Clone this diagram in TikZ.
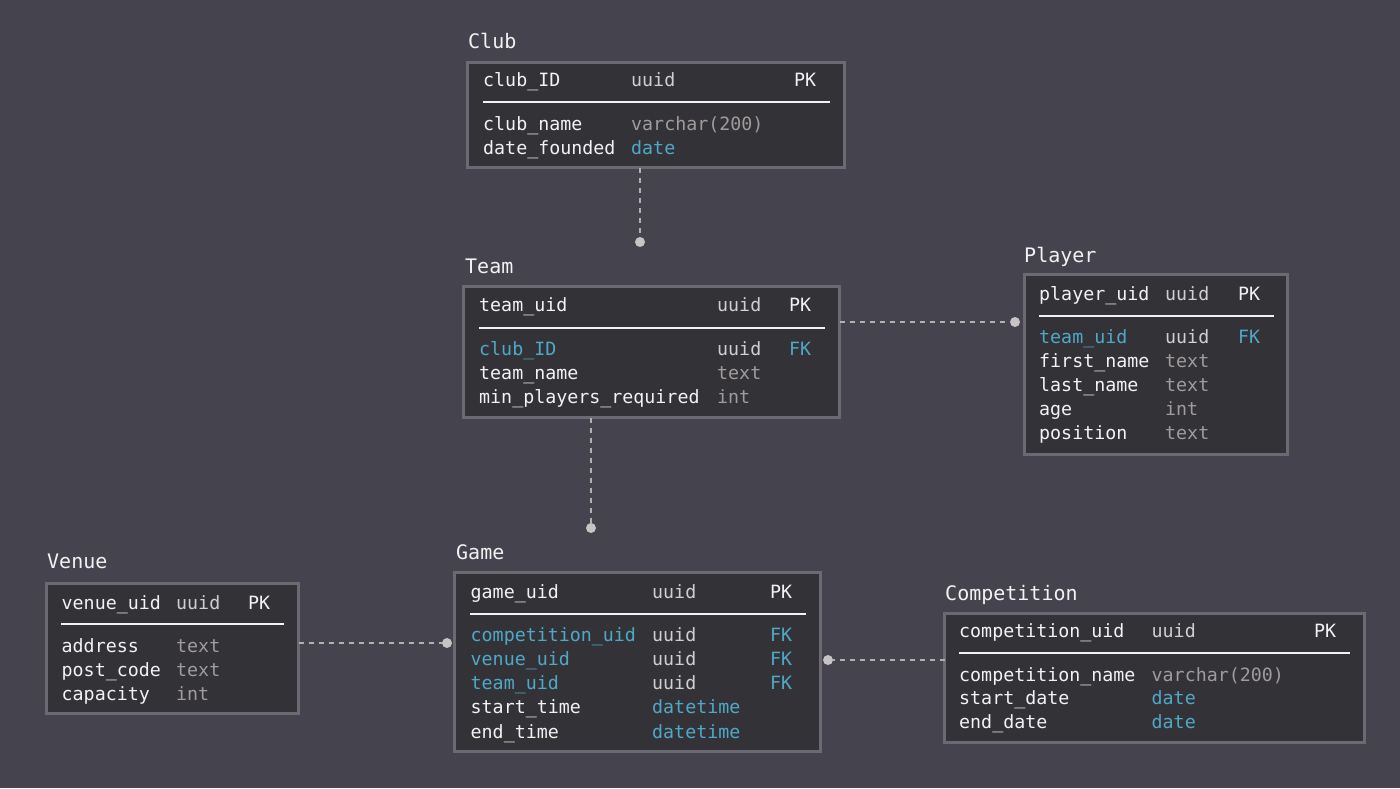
\documentclass[tikz,border=0pt]{standalone}
\usepackage{fontspec}
\newfontfamily\ermono{DejaVu Sans Mono}
\definecolor{canvas}{HTML}{45444E}
\definecolor{tablefill}{HTML}{333337}
\definecolor{tableline}{HTML}{6B6A72}
\definecolor{keyblue}{HTML}{4FA8C8}
\definecolor{typegrey}{HTML}{A19B9B}
\definecolor{uuidgrey}{HTML}{D2CECE}
\definecolor{fieldwhite}{HTML}{F2F2F2}
\definecolor{linkgrey}{HTML}{B4B0B0}
\definecolor{dotgrey}{HTML}{C8C4C4}
% one row of a table: name, baseline, field style, field, type style, type, key
\newcommand{\erow}[7]{%
  \node[#3] (#1f) at (\colA,#2) {#4};
  \node[#5] (#1t) at (\colB,#2) {#6};
  \node[#3] (#1k) at (\colC,#2) {#7};}
\begin{document}
\begin{tikzpicture}[x=1pt,y=-1pt,
    tbl/.style={rectangle, draw=tableline, line width=3pt, fill=tablefill, inner sep=0, outer sep=0},
    ttl/.style={anchor=base west, inner sep=0, text=fieldwhite, font=\ermono\fontsize{20}{24}\selectfont},
    fld/.style={anchor=base west, inner sep=0, text=fieldwhite, font=\ermono\fontsize{18.3}{22}\selectfont},
    fk/.style={fld, text=keyblue},
    uid/.style={fld, text=uuidgrey},
    typ/.style={fld, text=typegrey},
    dt/.style={fld, text=keyblue},
    sep/.style={fieldwhite, line width=1.5pt},
    link/.style={linkgrey, line width=1.5pt, dash pattern=on 5pt off 5pt},
    enddot/.style={circle, fill=dotgrey, inner sep=0, minimum size=10pt}]
  \fill[canvas] (0,0) rectangle (1400,788);
  \useasboundingbox (0,0) rectangle (1400,788);

  % Club
  \node[tbl, minimum width=377, minimum height=105] (club) at (656,115) {};
  \node[ttl] (club-t) at (468,48) {Club};
  \def\colA{483}\def\colB{631}\def\colC{794}
  \erow{club-1}{86}{fld}{club\_ID}{uid}{uuid}{PK}
  \draw[sep] (483,102) -- (830,102);
  \erow{club-2}{130}{fld}{club\_name}{typ}{varchar(200)}{}
  \erow{club-3}{154}{fld}{date\_founded}{dt}{date}{}

  % Team
  \node[tbl, minimum width=376, minimum height=131] (team) at (651.5,352) {};
  \node[ttl] (team-t) at (465,273) {Team};
  \def\colA{479}\def\colB{717}\def\colC{789}
  \erow{team-1}{311}{fld}{team\_uid}{uid}{uuid}{PK}
  \draw[sep] (479,328) -- (825,328);
  \erow{team-2}{355}{fk}{club\_ID}{uid}{uuid}{FK}
  \erow{team-3}{379}{fld}{team\_name}{typ}{text}{}
  \erow{team-4}{403}{fld}{min\_players\_required}{typ}{int}{}

  % Player
  \node[tbl, minimum width=263, minimum height=180] (player) at (1156,364.5) {};
  \node[ttl] (player-t) at (1024,262) {Player};
  \def\colA{1039}\def\colB{1165}\def\colC{1238}
  \erow{player-1}{300}{fld}{player\_uid}{uid}{uuid}{PK}
  \draw[sep] (1039,316) -- (1274,316);
  \erow{player-2}{343}{fk}{team\_uid}{uid}{uuid}{FK}
  \erow{player-3}{367}{fld}{first\_name}{typ}{text}{}
  \erow{player-4}{391}{fld}{last\_name}{typ}{text}{}
  \erow{player-5}{415}{fld}{age}{typ}{int}{}
  \erow{player-6}{439}{fld}{position}{typ}{text}{}

  % Game
  \node[tbl, minimum width=366, minimum height=179] (game) at (637.5,662) {};
  \node[ttl] (game-t) at (456,559) {Game};
  \def\colA{470.5}\def\colB{652}\def\colC{770}
  \erow{game-1}{598}{fld}{game\_uid}{uid}{uuid}{PK}
  \draw[sep] (470,614) -- (806,614);
  \erow{game-2}{641.5}{fk}{competition\_uid}{uid}{uuid}{FK}
  \erow{game-3}{665.5}{fk}{venue\_uid}{uid}{uuid}{FK}
  \erow{game-4}{689.5}{fk}{team\_uid}{uid}{uuid}{FK}
  \erow{game-5}{713.5}{fld}{start\_time}{dt}{datetime}{}
  \erow{game-6}{738}{fld}{end\_time}{dt}{datetime}{}

  % Venue
  \node[tbl, minimum width=252, minimum height=130] (venue) at (172.5,648.5) {};
  \node[ttl] (venue-t) at (47,568) {Venue};
  \def\colA{61.5}\def\colB{176}\def\colC{248}
  \erow{venue-1}{609}{fld}{venue\_uid}{uid}{uuid}{PK}
  \draw[sep] (61,624) -- (284,624);
  \erow{venue-2}{652}{fld}{address}{typ}{text}{}
  \erow{venue-3}{676}{fld}{post\_code}{typ}{text}{}
  \erow{venue-4}{700}{fld}{capacity}{typ}{int}{}

  % Competition
  \node[tbl, minimum width=420, minimum height=129] (comp) at (1154.5,678) {};
  \node[ttl] (comp-t) at (945,600) {Competition};
  \def\colA{959}\def\colB{1151.5}\def\colC{1314}
  \erow{comp-1}{637}{fld}{competition\_uid}{uid}{uuid}{PK}
  \draw[sep] (959,653) -- (1350,653);
  \erow{comp-2}{681}{fld}{competition\_name}{typ}{varchar(200)}{}
  \erow{comp-3}{704.5}{fld}{start\_date}{dt}{date}{}
  \erow{comp-4}{728.5}{fld}{end\_date}{dt}{date}{}

  % links
  \node[enddot] (clubdot) at (640,242) {};
  \node[enddot] (teamdot) at (591,528) {};
  \node[enddot] (playerdot) at (1015,322) {};
  \node[enddot] (venuedot) at (447,643) {};
  \node[enddot] (compdot) at (828,660) {};
  \draw[link] (clubdot |- club.south) -- (clubdot);
  \draw[link] (teamdot |- team.south) -- (teamdot);
  \draw[link] (team.east |- playerdot) -- (playerdot);
  \draw[link] (venue.east |- venuedot) -- (venuedot);
  \draw[link] (comp.west |- compdot) -- (compdot);
\end{tikzpicture}
\end{document}
